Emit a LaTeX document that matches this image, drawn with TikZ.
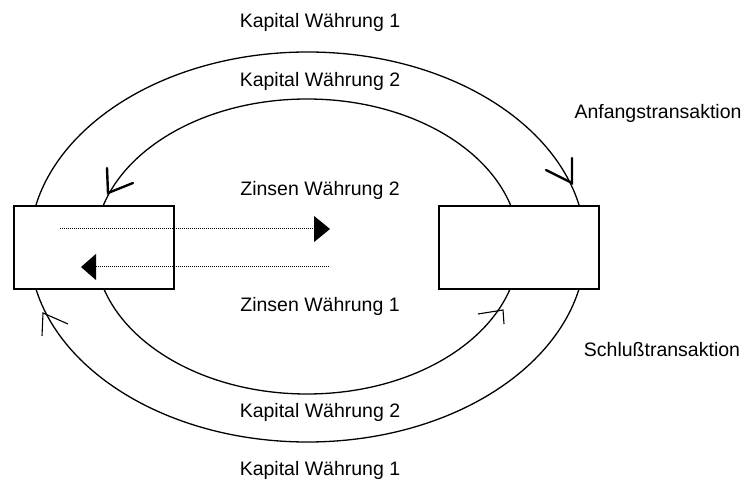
\documentclass[tikz,border=0pt]{standalone}
\usepackage{fontspec}
\setmainfont{Liberation Sans}
\usetikzlibrary{arrows.meta}
\tikzset{
  lbl/.style={font=\fontsize{19.5}{22}\selectfont, inner sep=0pt, anchor=center},
  box/.style={draw, line width=1.5pt, minimum width=160pt, minimum height=83pt, inner sep=0pt, fill=white},
  ring/.style={line width=1.3pt},
  openhead/.style={line width=2.4pt, line cap=round},
  thinhead/.style={line width=1.1pt},
  dotline/.style={line width=1pt, dash pattern=on 1pt off 1pt},
}
\begin{document}
\begin{tikzpicture}[x=1pt,y=-1pt]
\useasboundingbox (0,0) rectangle (745,481);
% ellipses
\draw[ring] (307.5,247) ellipse [x radius=278, y radius=195];
\draw[ring] (307,246.5) ellipse [x radius=212, y radius=147.5];
% boxes
\node[box] (L) at (94,247.5) {};
\node[box] (R) at (519,247.5) {};
% dotted arrows
\coordinate (d1s) at (60,229);
\coordinate (d1e) at (330,229);
\coordinate (d2s) at (329,267);
\coordinate (d2e) at (81,267);
\draw[dotline, -{Triangle[length=16pt,width=26pt]}] (d1s) -- (d1e);
\draw[dotline, -{Triangle[length=15pt,width=26pt]}] (d2s) -- (d2e);
% open arrowheads on the rings
\coordinate (a1) at (108,193);
\draw[openhead] (107,168) -- (a1) -- (133,183);
\coordinate (a2) at (572,183);
\draw[openhead] (572,158) -- (a2) -- (546,170);
\coordinate (a3) at (43,313);
\draw[thinhead] (42,336) -- (a3) -- (68,324);
\coordinate (a4) at (503,310);
\draw[thinhead] (504,324) -- (a4) -- (478,314);
% labels
\node[lbl] (k1t) at (320,22) {Kapital Währung 1};
\node[lbl] (k2t) at (320,81) {Kapital Währung 2};
\node[lbl] (z2) at (320,190) {Zinsen Währung 2};
\node[lbl] (z1) at (320,306) {Zinsen Währung 1};
\node[lbl] (k2b) at (320,412) {Kapital Währung 2};
\node[lbl] (k1b) at (320,470) {Kapital Währung 1};
\node[lbl] (an) at (658,113) {Anfangstransaktion};
\node[lbl] (sc) at (662,350) {Schlußtransaktion};
\end{tikzpicture}
\end{document}
